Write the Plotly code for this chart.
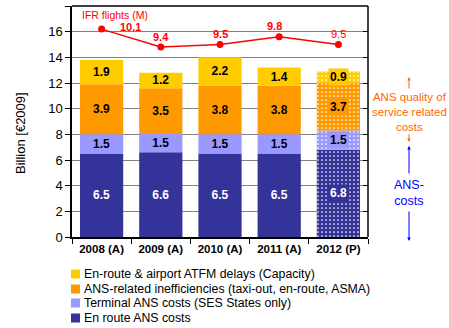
import plotly.graph_objects as go

categories = ["2008 (A)", "2009 (A)", "2010 (A)", "2011 (A)", "2012 (P)"]
enroute_ans = [6.5, 6.6, 6.5, 6.5, 6.8]
terminal_ans = [1.5, 1.5, 1.5, 1.5, 1.5]
ans_ineff = [3.9, 3.5, 3.8, 3.8, 3.7]
atfm_delays = [1.9, 1.2, 2.2, 1.4, 0.9]
ifr_flights = [10.1, 9.4, 9.5, 9.8, 9.5]
yticks = [0, 2, 4, 6, 8, 10, 12, 14, 16, 18]

series = [
    ("En route ANS costs", enroute_ans, "#333399", "white"),
    ("Terminal ANS costs (SES States only)", terminal_ans, "#9999FF", "black"),
    ("ANS-related inefficiencies (taxi-out, en-route, ASMA)", ans_ineff, "#FF9900", "black"),
    ("En-route & airport ATFM delays (Capacity)", atfm_delays, "#FFCC00", "black"),
]

FONT = "Liberation Sans, Arial, sans-serif"
W, H = 449, 328
L, R, T, B = 72, 368, 6, 237

def px(xp):
    return (xp - L) / (R - L)

def py(yp):
    return (B - yp) / (B - T)

fig = go.Figure()
annotations = []
base = [0.0] * len(categories)
for name, vals, color, tcolor in series:
    shapes_ = ["", "", "", "", "."]
    fig.add_trace(go.Bar(
        x=categories, y=vals, name=name, base=base[:],
        marker=dict(color=color, line=dict(width=0),
                    pattern=dict(shape=shapes_, fgcolor="white", bgcolor=color,
                                 size=4, solidity=0.15, fillmode="replace")),
        width=0.73,
        text=[f"{v}" for v in vals[:-1]] + [""],
        textposition="inside", insidetextanchor="middle", constraintext="none",
        textangle=0,
        textfont=dict(family=FONT, size=12, color=tcolor, weight="bold"),
        showlegend=False,
    ))
    # 2012 label with solid background
    i = len(categories) - 1
    annotations.append(dict(
        x=categories[i], y=base[i] + vals[i] / 2, xref="x", yref="y",
        xanchor="center", yanchor="middle",
        text=f"{vals[i]}", showarrow=False, bgcolor=color, borderpad=1,
        font=dict(family=FONT, size=12, color=tcolor, weight="bold"),
    ))
    base = [b + v for b, v in zip(base, vals)]

fig.add_trace(go.Scatter(
    x=categories, y=ifr_flights, yaxis="y2", mode="lines+markers",
    line=dict(color="#FF0000", width=1.5), marker=dict(color="#FF0000", size=7),
    showlegend=False, name="IFR flights (M)",
))

# line labels
offsets = [(29, 2), (0, 10), (0, 11), (-5, 11), (0, 11)]
for i, (c, v) in enumerate(zip(categories, ifr_flights)):
    dx, dy = offsets[i]
    annotations.append(dict(
        x=c, y=v, xref="x", yref="y2", text=f"{v}", showarrow=False,
        xanchor="center", yanchor="middle",
        xshift=dx, yshift=dy,
        font=dict(family=FONT, size=11, color="#FF0000",
                  weight="normal" if i == len(categories) - 1 else "bold"),
    ))

annotations.append(dict(x=px(80), y=py(15), xref="paper", yref="paper",
                        xanchor="left", yanchor="middle",
                        text="IFR flights (M)", showarrow=False,
                        font=dict(family=FONT, size=10.5, color="#FF0000")))

# Y axis title
annotations.append(dict(x=px(20), y=py(133), xref="paper", yref="paper",
                        xanchor="center", yanchor="middle",
                        text="Billion [€2009]", textangle=-90, showarrow=False,
                        font=dict(family=FONT, size=13, color="black")))

# right side annotations
ax_x = px(409)
annotations += [
    dict(x=ax_x, y=py(112), xref="paper", yref="paper", showarrow=False,
         xanchor="center", yanchor="middle",
         text="ANS quality of<br>service related<br>costs",
         font=dict(family=FONT, size=11.5, color="#FF6600")),
    dict(x=ax_x, y=py(77), xref="paper", yref="paper", text="", showarrow=True,
         ax=0, ay=13, arrowhead=2, arrowsize=0.7, arrowwidth=1, arrowcolor="#FF6600"),
    dict(x=ax_x, y=py(142), xref="paper", yref="paper", text="", showarrow=True,
         ax=0, ay=-9, arrowhead=2, arrowsize=0.7, arrowwidth=1, arrowcolor="#FF6600"),
    dict(x=ax_x, y=py(193), xref="paper", yref="paper", showarrow=False,
         xanchor="center", yanchor="middle",
         text="ANS-<br>costs",
         font=dict(family=FONT, size=12.5, color="#0000FF")),
    dict(x=ax_x, y=py(146), xref="paper", yref="paper", text="", showarrow=True,
         ax=0, ay=29, arrowhead=2, arrowsize=0.7, arrowwidth=1, arrowcolor="#0000FF"),
    dict(x=ax_x, y=py(241), xref="paper", yref="paper", text="", showarrow=True,
         ax=0, ay=-31, arrowhead=2, arrowsize=0.7, arrowwidth=1, arrowcolor="#0000FF"),
]

# manual legend
shapes = []
legend_rows = [274, 289, 303, 318]
for (name, vals, color, tcolor), yy in zip(reversed(series), legend_rows):
    shapes.append(dict(type="rect", xref="paper", yref="paper",
                       x0=px(71), x1=px(80), y0=py(yy - 4.5), y1=py(yy + 4.5),
                       fillcolor=color, line=dict(width=0)))
    annotations.append(dict(x=px(82), y=py(yy), xref="paper", yref="paper",
                            xanchor="left", yanchor="middle", text=name, showarrow=False,
                            font=dict(family=FONT, size=12.3, color="black")))

# frame lines (top and right)
shapes.append(dict(type="line", xref="paper", yref="paper", x0=0, x1=1, y0=1, y1=1,
                   line=dict(color="black", width=1.5)))
shapes.append(dict(type="line", xref="paper", yref="paper", x0=1, x1=1, y0=0, y1=1,
                   line=dict(color="black", width=1.5)))

fig.update_layout(
    width=W, height=H,
    margin=dict(l=L, r=W - R, t=T, b=H - B),
    plot_bgcolor="white", paper_bgcolor="white",
    barmode="overlay", bargap=0.27,
    font=dict(family=FONT, color="black"),
    xaxis=dict(showline=True, linecolor="black", linewidth=1.5, ticks="outside",
               tickson="boundaries", ticklen=5, tickcolor="black",
               tickfont=dict(family=FONT, size=11.5, weight="bold"), showgrid=False),
    yaxis=dict(range=[0, 18], tickvals=yticks, showline=True, linecolor="black",
               linewidth=1.5, ticks="outside", ticklen=5, tickcolor="black",
               gridcolor="#808080", gridwidth=1, zeroline=False,
               tickfont=dict(family=FONT, size=13)),
    yaxis2=dict(range=[2, 11], overlaying="y", side="right", showgrid=False,
                showticklabels=False, ticks="inside", tickvals=[2 + t / 2 for t in yticks],
                ticklen=5, tickcolor="black", showline=False, zeroline=False),
    annotations=annotations, shapes=shapes,
)

fig.write_html("out.html")
